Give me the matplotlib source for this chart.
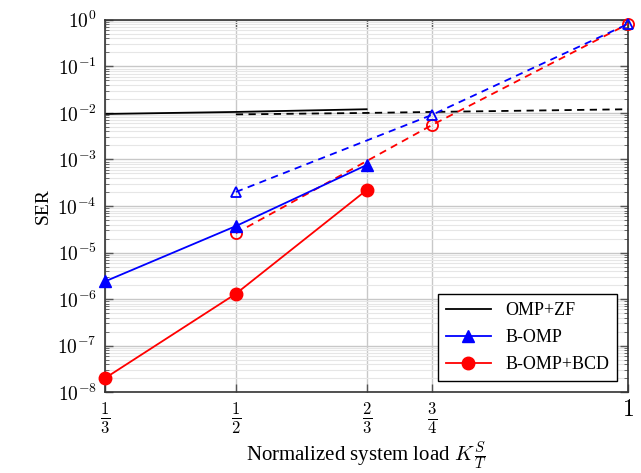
import matplotlib
matplotlib.use("Agg")
import matplotlib.pyplot as plt
import numpy as np

plt.rcParams['font.family'] = ['Liberation Serif', 'DejaVu Serif']
plt.rcParams['mathtext.fontset'] = 'cm'

# data
x_tick_vals = [1/3, 1/2, 2/3, 3/4, 1]
x_tick_labels = [r'$\frac{1}{3}$', r'$\frac{1}{2}$', r'$\frac{2}{3}$', r'$\frac{3}{4}$', r'$1$']

omp_zf_x = [1/3, 1/2, 2/3]
omp_zf_y = [9.5e-3, 1.05e-2, 1.2e-2]
omp_zf_dash_x = [1/2, 2/3, 3/4, 1]
omp_zf_dash_y = [9.3e-3, 1.0e-2, 1.05e-2, 1.2e-2]

bomp_x = [1/3, 1/2, 2/3]
bomp_y = [2.4e-6, 3.7e-5, 7.6e-4]
bomp_dash_x = [1/2, 3/4, 1]
bomp_dash_y = [2.0e-4, 9.1e-3, 0.82]

bcd_x = [1/3, 1/2, 2/3]
bcd_y = [2.0e-8, 1.3e-6, 2.2e-4]
bcd_dash_x = [1/2, 3/4, 1]
bcd_dash_y = [2.6e-5, 5.5e-3, 0.82]

fig, ax = plt.subplots(figsize=(6.41, 4.73), dpi=100)
fig.subplots_adjust(left=0.164, right=0.98, top=0.958, bottom=0.171)

lw = 1.3
ax.plot(omp_zf_x, omp_zf_y, '-', color='black', lw=lw, label='OMP+ZF')
ax.plot(omp_zf_dash_x, omp_zf_dash_y, '--', color='black', lw=lw, dashes=(4, 3))
ax.plot(bomp_x, bomp_y, '-^', color='blue', lw=lw, markersize=8, label='B-OMP', clip_on=False, zorder=4)
ax.plot(bomp_dash_x, bomp_dash_y, '--^', color='blue', lw=lw, markersize=7, dashes=(4, 3),
        markerfacecolor='none', markeredgewidth=1.3, clip_on=False, zorder=4)
ax.plot(bcd_x, bcd_y, '-o', color='red', lw=lw, markersize=9, label='B-OMP+BCD', clip_on=False, zorder=3)
ax.plot(bcd_dash_x, bcd_dash_y, '--o', color='red', lw=lw, markersize=8, dashes=(4, 3),
        markerfacecolor='none', markeredgewidth=1.3, clip_on=False, zorder=3)

ax.set_yscale('log')
ax.set_xlim(1/3, 1)
ax.set_ylim(1e-8, 1)
ax.set_xticks(x_tick_vals)
ax.set_xticklabels(x_tick_labels, fontsize=17)
ax.set_yticks([10.0**k for k in range(-8, 1)])
ax.set_yticklabels([r'$10^{%d}$' % k for k in range(-8, 1)], fontsize=14)
ax.yaxis.set_minor_locator(matplotlib.ticker.LogLocator(base=10, subs=np.arange(2, 10)))
ax.yaxis.set_minor_formatter(matplotlib.ticker.NullFormatter())

ax.tick_params(which='both', direction='in', top=True, right=True, colors='#555555', labelcolor='black')
ax.tick_params(which='major', length=6, width=1.0, pad=6)
ax.tick_params(which='minor', length=3, width=0.6)

ax.grid(True, which='major', color='#c8c8c8', linewidth=1.0)
ax.grid(True, which='minor', axis='y', color='#e6e6e6', linewidth=0.8)
ax.set_axisbelow(True)
for s in ax.spines.values():
    s.set_linewidth(1.2)
    s.set_color('#333333')

ax.set_xlabel(r'Normalized system load $K\,\frac{S}{T}$', fontsize=15, labelpad=2)
ax.set_ylabel('SER', fontsize=14)

leg = ax.legend(loc='lower right', fontsize=13, fancybox=False, edgecolor='black',
                framealpha=1, handlelength=2.5, borderpad=0.45, labelspacing=0.55,
                borderaxespad=0.6)
leg.get_frame().set_linewidth(1.0)

fig.savefig('out.png', dpi=100)
